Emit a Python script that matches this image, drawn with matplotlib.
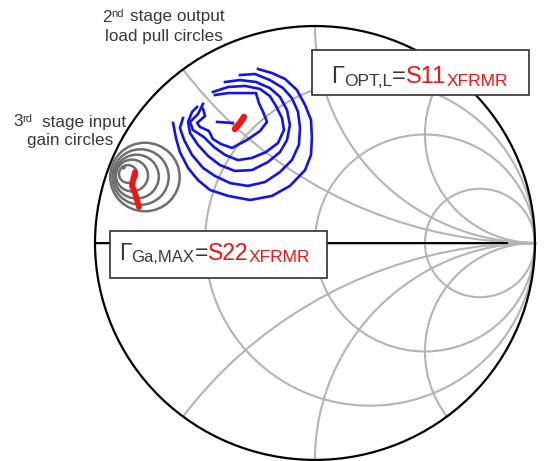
import numpy as np
import matplotlib
matplotlib.use("Agg")
import matplotlib.pyplot as plt
from matplotlib.patches import Circle, Rectangle

# Smith chart grid: constant resistance circles and constant reactance arcs
r_grid = [1 / 3, 1.0, 3.0]
x_grid = [0.5, 1.0, 2.0, -0.5, -1.0, -2.0]

# 2nd stage output load pull contours (reflection coefficient, re / im)
lp_re = [
    [-0.455, -0.395, -0.327, -0.268, -0.255, -0.236, -0.218, -0.250, -0.309,
     -0.377, -0.427, -0.464, -0.482, -0.523, -0.536, -0.500, -0.509],
    [-0.464, -0.395, -0.318, -0.250, -0.205, -0.177, -0.150, -0.141, -0.168,
     -0.223, -0.286, -0.350, -0.409, -0.459, -0.505, -0.555, -0.568, -0.532, -0.509],
    [-0.409, -0.341, -0.268, -0.205, -0.159, -0.127, -0.114, -0.127, -0.159,
     -0.214, -0.286, -0.364, -0.432, -0.486, -0.532, -0.568, -0.577, -0.559, -0.536],
    [-0.341, -0.273, -0.205, -0.145, -0.105, -0.077, -0.068, -0.073, -0.105,
     -0.159, -0.227, -0.305, -0.386, -0.455, -0.509, -0.559, -0.595, -0.614, -0.600],
    [-0.259, -0.195, -0.136, -0.082, -0.045, -0.018, -0.014, -0.018, -0.045,
     -0.114, -0.195, -0.295, -0.395, -0.477, -0.532, -0.577, -0.614, -0.632, -0.645],
]
lp_im = [
    [0.682, 0.691, 0.691, 0.691, 0.645, 0.604, 0.558, 0.516, 0.475,
     0.438, 0.456, 0.479, 0.516, 0.535, 0.553, 0.585, 0.618],
    [0.696, 0.719, 0.724, 0.710, 0.677, 0.631, 0.576, 0.521, 0.461,
     0.419, 0.392, 0.382, 0.406, 0.442, 0.488, 0.521, 0.558, 0.594, 0.641],
    [0.742, 0.751, 0.742, 0.714, 0.673, 0.613, 0.544, 0.475, 0.419,
     0.373, 0.336, 0.332, 0.359, 0.401, 0.452, 0.507, 0.558, 0.604, 0.627],
    [0.774, 0.779, 0.751, 0.714, 0.668, 0.604, 0.530, 0.452, 0.382,
     0.327, 0.281, 0.263, 0.276, 0.309, 0.346, 0.406, 0.475, 0.530, 0.576],
    [0.802, 0.783, 0.756, 0.705, 0.636, 0.567, 0.484, 0.406, 0.336,
     0.263, 0.217, 0.198, 0.217, 0.244, 0.290, 0.346, 0.419, 0.484, 0.553],
]
lp_opt_re = [-0.445, -0.373]
lp_opt_im = [0.558, 0.553]
s11_re = [-0.364, -0.341, -0.323]
s11_im = [0.525, 0.553, 0.581]

# 3rd stage input gain circles: centres and radii
gc_re = [-0.773, -0.793, -0.811, -0.832, -0.850]
gc_im = [0.304, 0.304, 0.306, 0.311, 0.318]
gc_rad = [0.158, 0.128, 0.101, 0.073, 0.041]
gmax_re, gmax_im = -0.873, 0.350
s22_re = [-0.818, -0.827, -0.832, -0.818, -0.805, -0.800]
s22_im = [0.327, 0.290, 0.263, 0.230, 0.184, 0.166]

W, H = 549, 461
FONT = "Liberation Sans"
DARK = "#383838"
RED = "#f01616"
GRID = "#b4b4b4"

fig = plt.figure(figsize=(W / 100, H / 100), dpi=100)
ax = fig.add_axes([0, 0, 1, 1])
ax.set_xlim(-1.432, 1.064)
ax.set_ylim(-1.005, 1.120)
ax.axis("off")

boundary = Circle((0, 0), 1.0, transform=ax.transData)
for r in r_grid:
    ax.add_patch(Circle((r / (1 + r), 0), 1 / (1 + r), fill=False, ec=GRID, lw=1.5))
for x in x_grid:
    arc = Circle((1, 1 / x), 1 / abs(x), fill=False, ec=GRID, lw=1.5)
    ax.add_patch(arc)
    arc.set_clip_path(boundary)
ax.plot([-1, 1], [0, 0], color=GRID, lw=2.0)
ax.plot([-1, 0.873], [0, 0], color="black", lw=1.4, zorder=3)
ax.add_patch(Circle((0, 0), 1.0, fill=False, ec="black", lw=1.6, zorder=3))

# gain circles
for cx, cy, rad in zip(gc_re, gc_im, gc_rad):
    ax.add_patch(Circle((cx, cy), rad, fill=False, ec="#6e6e6e", lw=1.8, zorder=4))
ax.plot(gmax_re, gmax_im, "o", color="#6e6e6e", ms=2.2, zorder=4)
ax.plot(s22_re, s22_im, color=RED, lw=4.2, solid_capstyle="round", zorder=5)

# load pull contours
for xs, ys in zip(lp_re, lp_im):
    ax.plot(xs, ys, color="#1414e6", lw=1.9, zorder=4)
ax.plot(lp_opt_re, lp_opt_im, color="#1414e6", lw=1.9, zorder=4)
ax.plot(s11_re, s11_im, color=RED, lw=4.6, solid_capstyle="round", zorder=5)

renderer = fig.canvas.get_renderer()


def box(x0, y0, x1, y1):
    fig.add_artist(Rectangle((x0 / W, 1 - y1 / H), (x1 - x0) / W, (y1 - y0) / H,
                             transform=fig.transFigure, fc="white", ec="#303030",
                             lw=1.2, zorder=6))


def put(x, y, s, size, color=DARK):
    return fig.text(x / W, 1 - y / H, s, fontsize=size, color=color, family=FONT,
                    ha="left", va="baseline", zorder=7)


def chain(x, parts):
    # lay text runs side by side, each starting where the previous one ends
    for s, y, size, color in parts:
        t = put(x, y, s, size, color)
        x = t.get_window_extent(renderer).x1


box(312, 50, 529, 95)
chain(331, [("\u0393", 83, 17, DARK), ("OPT,L", 85.5, 12.5, DARK),
            ("=", 83, 17, DARK), ("S11", 83, 17, RED), ("XFRMR", 85.5, 12.5, RED)])

box(110, 231, 327, 278)
chain(119, [("\u0393", 259.5, 16.5, DARK), ("Ga,MAX", 262, 12, DARK),
            ("=", 259.5, 16.5, DARK), ("S22", 259.5, 16.5, RED), ("XFRMR", 262, 12.5, RED)])

put(102, 21.5, "2", 12.3)
put(111, 17, "nd", 8)
put(130, 21.5, "stage output", 12.3)
put(105, 41, "load pull circles", 12.3)

put(13, 126.5, "3", 12.3)
put(22, 122, "rd", 8)
put(42, 126.5, "stage input", 12.3)
put(27, 145.5, "gain circles", 12.3)

fig.savefig("out.png", dpi=100)
